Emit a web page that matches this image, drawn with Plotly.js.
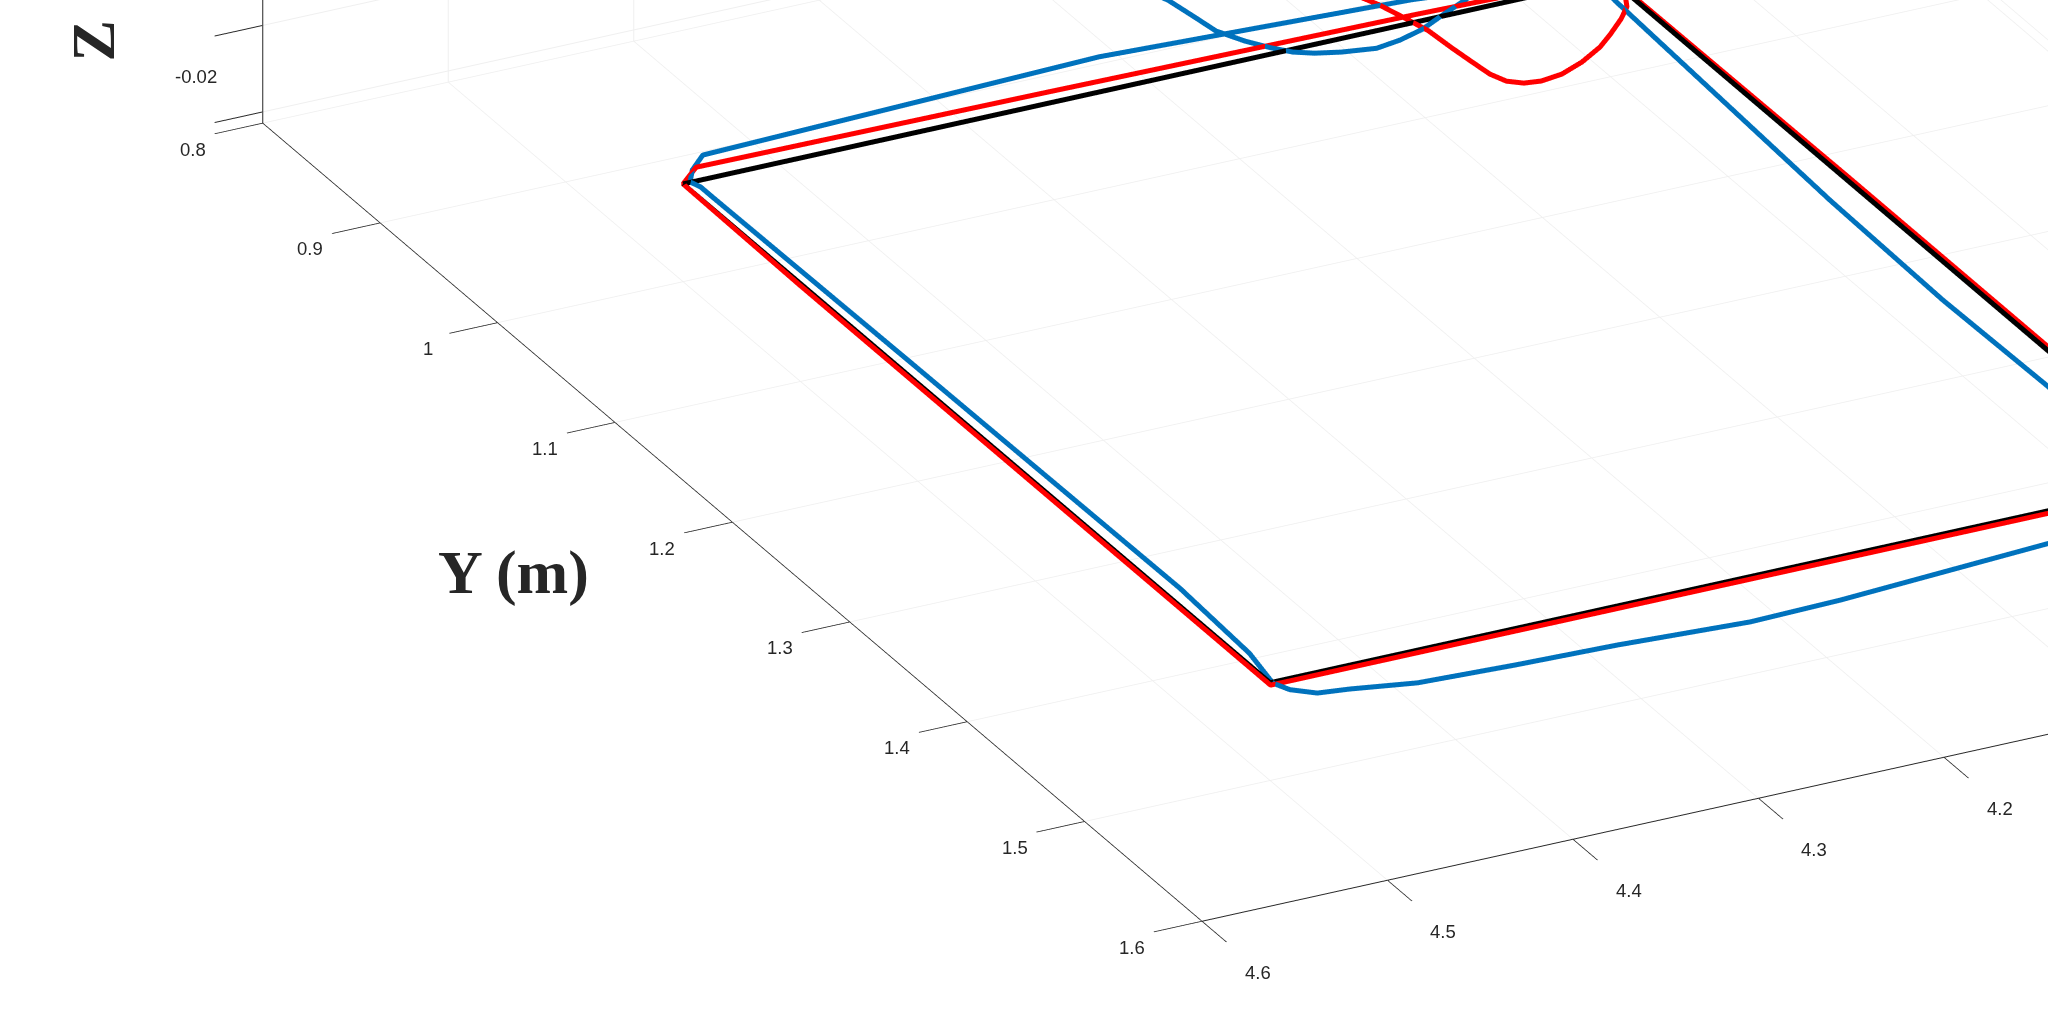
<!DOCTYPE html>
<html>
<head>
<meta charset="utf-8">
<script src="https://cdn.plot.ly/plotly-3.0.1.min.js"></script>
<style>
html,body{margin:0;padding:0;background:#fff;overflow:hidden}
#chart{width:2048px;height:1035px}
</style>
</head>
<body>
<div id="chart"></div>
<script>
// ---- data (metres) ----
const refX = [4.5, 4.5, 4.0, 4.0, 4.5];
const refY = [1.0, 1.5, 1.5, 1.0, 1.0];
const refZ = [-0.01, -0.01, -0.01, -0.01, -0.01];

const redX = [4.125, 4.112, 4.108, 4.104, 4.1026, 4.101, 4.0995, 4.096, 4.0895, 4.081, 4.0687, 4.054, 4.0388, 4.028, 4.0157, 4.007, 3.999, 3.998, 3.998, 3.998, 4.20, 4.40, 4.501, 4.501, 4.501, 4.500, 4.486, 4.30, 4.10, 4.00, 3.999];
const redY = [0.950, 0.980, 0.994, 1.009, 1.027, 1.042, 1.0545, 1.063, 1.0676, 1.069, 1.0671, 1.061, 1.0523, 1.044, 1.0337, 1.025, 1.010, 1.200, 1.400, 1.502, 1.502, 1.502, 1.502, 1.300, 1.100, 1.000, 0.989, 0.991, 0.994, 0.997, 1.010];
const redZ = [-0.01, -0.01, -0.01, -0.01, -0.01, -0.01, -0.01, -0.01, -0.01, -0.01, -0.01, -0.01, -0.01, -0.01, -0.01, -0.01, -0.01, -0.01, -0.01, -0.01, -0.01, -0.01, -0.01, -0.01, -0.01, -0.01, -0.01, -0.01, -0.01, -0.01, -0.01];

const blueX = [4.210, 4.200, 4.1973, 4.195, 4.1877, 4.180, 4.1727, 4.164, 4.1521, 4.135, 4.1209, 4.106, 4.0912, 4.0725, 4.040, 4.005, 4.009, 4.0175, 4.0195, 4.018, 4.030, 4.060, 4.097, 4.2146, 4.264, 4.333, 4.3855, 4.437, 4.469, 4.485, 4.495, 4.499, 4.494, 4.491, 4.4925, 4.494, 4.494, 4.496, 4.489, 4.477, 4.258, 4.096, 4.030];
const blueY = [0.915, 0.939, 0.9561, 0.972, 0.9851, 0.995, 1.0023, 1.007, 1.0108, 1.014, 1.0116, 1.007, 0.9997, 0.991, 0.975, 0.990, 1.018, 1.2145, 1.314, 1.402, 1.470, 1.515, 1.526, 1.5345, 1.536, 1.531, 1.529, 1.526, 1.519, 1.5165, 1.509, 1.5008, 1.473, 1.409, 1.184, 1.0157, 1.0054, 0.9997, 0.9905, 0.9805, 0.972, 0.9815, 0.990];
const blueZ = [-0.01, -0.01, -0.01, -0.01, -0.01, -0.01, -0.01, -0.01, -0.01, -0.01, -0.01, -0.01, -0.01, -0.01, -0.01, -0.01, -0.01, -0.01, -0.01, -0.01, -0.01, -0.01, -0.01, -0.01, -0.01, -0.01, -0.01, -0.01, -0.01, -0.01, -0.01, -0.01, -0.01, -0.01, -0.01, -0.01, -0.01, -0.01, -0.01, -0.01, -0.01, -0.01, -0.01];

// ---- ticks ----
const xTickVals = [3.8, 3.9, 4.0, 4.1, 4.2, 4.3, 4.4, 4.5, 4.6];
const yTickVals = [0.8, 0.9, 1.0, 1.1, 1.2, 1.3, 1.4, 1.5, 1.6];
const zTickVals = [-0.02, -0.01, 0];
// tick labels visible in the view
const xLabelVals = [4.6, 4.5, 4.4, 4.3, 4.2];
const xLabelText = ['4.6', '4.5', '4.4', '4.3', '4.2'];
const yLabelVals = [0.8, 0.9, 1.0, 1.1, 1.2, 1.3, 1.4, 1.5, 1.6];
const yLabelText = ['0.8', '0.9', '1', '1.1', '1.2', '1.3', '1.4', '1.5', '1.6'];
const zLabelVals = [-0.02];
const zLabelText = ['-0.02'];

const xRange = [3.8, 4.6];
const yRange = [0.8, 1.6];
const zRange = [-0.0213, 0.0];

// ---- styling ----
const axisCol = '#262626';
const gridCol = 'rgb(239,239,239)';
const labelFont = {family: 'Liberation Sans', size: 18.5, color: axisCol};
const titleFont = {family: 'Liberation Serif', size: 62, color: axisCol};

function axis(vals, range) {
  return {
    range: range, autorange: false,
    tickmode: 'array', tickvals: vals, showticklabels: false,
    showgrid: true, gridcolor: gridCol, gridwidth: 2,
    zeroline: false, showline: true, linecolor: axisCol, linewidth: 2,
    ticks: 'outside', ticklen: 54, tickcolor: axisCol, tickwidth: 2,
    showbackground: false, showspikes: false,
    title: {text: ''}
  };
}

const annots = [];
xLabelVals.forEach((v, i) => annots.push({x: v, y: yRange[1], z: zRange[0], text: xLabelText[i],
  showarrow: false, xanchor: 'center', yanchor: 'middle', xshift: 56, yshift: -51, font: labelFont}));
yLabelVals.forEach((v, i) => annots.push({x: xRange[1], y: v, z: zRange[0], text: yLabelText[i],
  showarrow: false, xanchor: 'center', yanchor: 'middle', xshift: -70, yshift: -26, font: labelFont}));
zLabelVals.forEach((v, i) => annots.push({x: xRange[1], y: yRange[0], z: v, text: zLabelText[i],
  showarrow: false, xanchor: 'center', yanchor: 'middle', xshift: -67, yshift: 35, font: labelFont}));

const dir = [0.4094, 0.8028, 0.4333];
const ctr = {x: 1.296, y: 0.6257, z: 0.0121};
const dist = 10;

const traces = [
  {type: 'scatter3d', mode: 'lines', name: 'Reference', x: refX, y: refY, z: refZ,
   line: {color: '#000000', width: 10}},
  {type: 'scatter3d', mode: 'lines', name: 'Red', x: redX, y: redY, z: redZ,
   line: {color: '#FF0000', width: 10}},
  {type: 'scatter3d', mode: 'lines', name: 'Blue', x: blueX, y: blueY, z: blueZ,
   line: {color: '#0072BD', width: 10}}
];

const layout = {
  width: 2048, height: 1035,
  margin: {l: 0, r: 0, t: 0, b: 0, pad: 0},
  paper_bgcolor: '#ffffff',
  showlegend: false,
  scene: {
    domain: {x: [0, 1], y: [0, 1]},
    xaxis: axis(xTickVals, xRange),
    yaxis: axis(yTickVals, yRange),
    zaxis: axis(zTickVals, zRange),
    aspectmode: 'manual',
    aspectratio: {x: 3.219, y: 3.995, z: 0.395},
    camera: {
      projection: {type: 'orthographic'},
      up: {x: 0, y: 0, z: 1},
      center: ctr,
      eye: {x: ctr.x + dist * dir[0], y: ctr.y + dist * dir[1], z: ctr.z + dist * dir[2]}
    },
    annotations: annots
  },
  annotations: [
    {text: '<b>Y (m)</b>', xref: 'paper', yref: 'paper', x: 0.2505, y: 0.4464,
     xanchor: 'center', yanchor: 'middle', showarrow: false, font: titleFont},
    {text: '<b>Z</b>', xref: 'paper', yref: 'paper', x: 0.0454, y: 0.9391,
     xanchor: 'center', yanchor: 'bottom', textangle: -90, showarrow: false, font: titleFont}
  ]
};

Plotly.newPlot('chart', traces, layout, {displayModeBar: false});
</script>
</body>
</html>
